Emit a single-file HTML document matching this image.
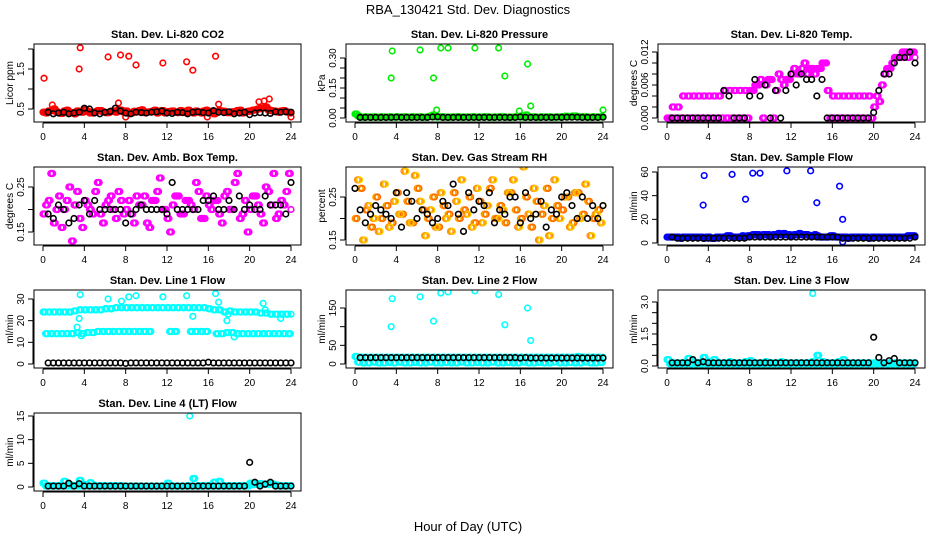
<!DOCTYPE html>
<html><head><meta charset="utf-8"><style>
body{margin:0;background:#fff;}
svg{display:block;font-family:"Liberation Sans",sans-serif;}
</style></head><body>
<svg id="c" width="936" height="540">
<text x="468" y="14" font-size="13" text-anchor="middle">RBA_130421  Std. Dev. Diagnostics</text>
<text x="468" y="531" font-size="13" text-anchor="middle">Hour of Day (UTC)</text>
</svg>
<script>
const hoursA=[0,0.5,1,1.5,2,2.5,3,3.5,4,4.5,5,5.5,6,6.5,7,7.5,8,8.5,9,9.5,10,10.5,11,11.5,12,12.5,13,13.5,14,14.5,15,15.5,16,16.5,17,17.5,18,18.5,19,19.5,20,20.5,21,21.5,22,22.5,23,23.5,24];
const hoursB=[0.25,0.75,1.25,1.75,2.25,2.75,3.25,3.75,4.25,4.75,5.25,5.75,6.25,6.75,7.25,7.75,8.25,8.75,9.25,9.75,10.25,10.75,11.25,11.75,12.25,12.75,13.25,13.75,14.25,14.75,15.25,15.75,16.25,16.75,17.25,17.75,18.25,18.75,19.25,19.75,20.25,20.75,21.25,21.75,22.25,22.75,23.25,23.75];
const xTicks=[0,4,8,12,16,20,24];

// CO2
const co2A=[0.42,0.45,0.5,0.4,0.45,0.42,0.38,0.44,0.48,0.4,0.43,0.46,0.41,0.44,0.42,0.47,0.45,0.4,0.43,0.48,0.42,0.44,0.4,0.46,0.43,0.45,0.41,0.44,0.47,0.4,0.43,0.45,0.42,0.38,0.46,0.44,0.41,0.43,0.47,0.42,0.45,0.48,0.52,0.55,0.46,0.44,0.45,0.43,0.4];
const co2B=[0.4,0.46,0.43,0.39,0.47,0.41,0.45,0.42,0.44,0.4,0.46,0.43,0.41,0.45,0.48,0.42,0.39,0.44,0.46,0.41,0.43,0.47,0.45,0.4,0.44,0.42,0.46,0.41,0.43,0.45,0.4,0.47,0.44,0.42,0.45,0.41,0.43,0.46,0.4,0.44,0.47,0.5,0.53,0.48,0.45,0.42,0.46,0.41];
const co2OutT=[0.1,3.5,3.6,6.3,7.5,8.3,9,11.6,13.9,14.5,16.7,0.9,7.3,17,20.9,21.4,21.9,15.9,24,8];
const co2OutV=[1.27,1.5,2.03,1.8,1.85,1.82,1.6,1.65,1.68,1.47,1.82,0.6,0.65,0.62,0.68,0.7,0.75,0.3,0.3,0.3];
const co2K=[0.4,0.42,0.38,0.4,0.42,0.38,0.4,0.42,0.52,0.5,0.4,0.38,0.42,0.44,0.52,0.45,0.4,0.38,0.42,0.41,0.4,0.42,0.43,0.45,0.4,0.39,0.42,0.41,0.38,0.42,0.43,0.41,0.4,0.46,0.42,0.41,0.43,0.38,0.4,0.42,0.36,0.4,0.41,0.4,0.39,0.43,0.42,0.43,0.42];
// Pressure
const prA=[0.02,0.005,0.006,0.004,0.005,0.006,0.004,0.005,0.006,0.004,0.005,0.006,0.005,0.004,0.006,0.015,0.005,0.006,0.004,0.005,0.006,0.005,0.004,0.006,0.005,0.006,0.004,0.005,0.006,0.005,0.004,0.006,0.01,0.015,0.005,0.004,0.006,0.005,0.004,0.005,0.006,0.008,0.01,0.007,0.006,0.005,0.006,0.005,0.006];
const prB=[0.01,0.004,0.005,0.006,0.004,0.005,0.006,0.004,0.005,0.006,0.004,0.005,0.006,0.004,0.01,0.005,0.006,0.004,0.005,0.006,0.004,0.005,0.006,0.004,0.005,0.006,0.004,0.005,0.006,0.004,0.005,0.006,0.004,0.005,0.006,0.004,0.005,0.006,0.004,0.005,0.008,0.006,0.01,0.005,0.006,0.004,0.005,0.006];
const prOutT=[3.5,3.6,6.3,7.6,8.3,9,11.6,13.9,14.5,16.7,17,7.9,15.9,24,0.1];
const prOutV=[0.2,0.335,0.34,0.2,0.35,0.35,0.35,0.35,0.21,0.27,0.06,0.04,0.035,0.04,0.02];
const prK=[0.015,0.003,0.003,0.003,0.003,0.003,0.003,0.003,0.004,0.003,0.003,0.003,0.003,0.003,0.003,0.005,0.006,0.003,0.003,0.003,0.003,0.003,0.003,0.003,0.003,0.003,0.003,0.003,0.003,0.003,0.003,0.003,0.005,0.003,0.003,0.003,0.003,0.003,0.003,0.004,0.003,0.004,0.004,0.004,0.003,0.003,0.003,0.003,0.004];
// Temp
const tmA=[0,0.002,0.002,0.004,0.004,0.004,0.004,0.004,0.004,0.004,0.004,0.005,0.005,0.005,0.005,0.005,0.005,0.006,0.007,0.006,0.007,0.005,0.007,0.007,0.008,0.008,0.009,0.008,0.009,0.009,0.010,0.005,0.004,0.004,0.004,0.004,0.004,0.004,0.004,0.004,0.002,0.003,0.008,0.009,0.011,0.011,0.012,0.012,0.011];
const tmB=[0,0,0,0,0,0,0,0,0,0,0,0,0,0,0,0,0.005,0.006,0,0.007,0,0.008,0.006,0.007,0.009,0.008,0.010,0.009,0.008,0.009,0.010,0,0,0,0,0,0,0,0,0,0.004,0.006,0.009,0.010,0.011,0.012,0.011,0.012];
const tmK=[0,0,0,0,0,0,0,0,0,0,0,0.005,0.004,0,0,0,0.004,0.007,0.004,0.006,0,0.005,0,0.005,0.008,0.006,0.008,0.007,0.007,0.004,0.007,0,0,0,0,0,0,0,0,0,0.001,0.005,0.008,0.008,0.010,0.011,0.011,0.012,0.010];
// Ambient temp
const amA=[0.19,0.22,0.17,0.23,0.2,0.25,0.21,0.18,0.22,0.2,0.24,0.19,0.21,0.23,0.18,0.22,0.2,0.19,0.23,0.21,0.17,0.22,0.24,0.2,0.18,0.21,0.23,0.19,0.22,0.2,0.24,0.18,0.21,0.22,0.19,0.23,0.2,0.26,0.18,0.22,0.2,0.23,0.19,0.25,0.21,0.18,0.22,0.24,0.2];
const amB=[0.21,0.28,0.2,0.16,0.22,0.13,0.24,0.16,0.21,0.19,0.26,0.17,0.22,0.2,0.24,0.19,0.22,0.17,0.21,0.23,0.16,0.22,0.27,0.2,0.15,0.23,0.19,0.22,0.21,0.26,0.18,0.23,0.2,0.22,0.17,0.24,0.2,0.28,0.19,0.15,0.23,0.21,0.17,0.24,0.28,0.19,0.21,0.28];
const amK=[0.19,0.19,0.18,0.21,0.2,0.17,0.18,0.21,0.22,0.19,0.22,0.2,0.2,0.2,0.2,0.2,0.17,0.19,0.2,0.21,0.2,0.2,0.2,0.2,0.19,0.26,0.2,0.2,0.2,0.2,0.2,0.22,0.22,0.23,0.2,0.2,0.22,0.2,0.23,0.2,0.21,0.2,0.2,0.23,0.21,0.21,0.21,0.19,0.26];
// Gas RH
const rhA=[0.2,0.27,0.22,0.18,0.25,0.2,0.23,0.19,0.26,0.21,0.24,0.19,0.27,0.22,0.2,0.25,0.18,0.23,0.21,0.26,0.2,0.22,0.25,0.19,0.24,0.21,0.27,0.2,0.23,0.19,0.26,0.22,0.2,0.25,0.18,0.24,0.21,0.27,0.2,0.23,0.22,0.25,0.19,0.26,0.21,0.24,0.2,0.22,0.23];
const rhB=[0.29,0.15,0.23,0.2,0.17,0.28,0.18,0.24,0.21,0.31,0.19,0.3,0.24,0.16,0.22,0.18,0.26,0.2,0.17,0.24,0.29,0.21,0.18,0.27,0.19,0.23,0.29,0.2,0.22,0.26,0.29,0.18,0.32,0.21,0.27,0.15,0.23,0.16,0.29,0.2,0.25,0.18,0.26,0.2,0.28,0.16,0.21,0.19];
const rhK=[0.27,0.22,0.19,0.21,0.23,0.22,0.21,0.2,0.26,0.18,0.26,0.24,0.2,0.22,0.21,0.19,0.2,0.24,0.23,0.28,0.21,0.17,0.26,0.22,0.24,0.23,0.26,0.19,0.22,0.21,0.25,0.25,0.19,0.26,0.2,0.21,0.24,0.18,0.22,0.21,0.25,0.26,0.23,0.2,0.25,0.2,0.23,0.2,0.23];
// Sample flow
const sfA=[5,5,5,5,5,5,5,4,5,4,5,5,6,5,5,5,6,7,6,7,6,7,7,7,6,7,7,7,6,6,5,5,6,5,5,4,5,5,5,4,5,5,5,5,5,5,5,6,6];
const sfB=[5,5,4,5,5,5,5,5,4,5,5,6,5,5,6,6,7,7,7,7,7,8,8,7,7,8,7,6,7,5,5,6,5,5,5,5,5,5,5,5,5,5,5,5,5,5,6,6];
const sfOutT=[3.5,3.6,6.3,7.6,8.3,9,11.6,13.9,14.5,16.7,17,17];
const sfOutV=[32,57,58,37,59,59,61,61,34,48,20,1];
const sfK=[5,5,4,4,4,4,4,4,4,4,4,4,4,4,4,4,5,5,5,5,5,5,5,5,5,5,5,5,5,5,5,5,5,5,4,4,4,4,4,4,4,4,4,4,4,4,4,4,5];
// Line 1 flow
const l1A=[24,24,24,24,24,24,24.5,25,25,25,25,25,25.5,25.5,26,26,26,26,26,26,26,26,26,26,26,26,26,26,26,26,26,26,25.5,25,25,24,24.5,24,24,24,24,24,23.5,23.5,23,23,23,23,23];
const l1B=[14,14,14,14,14,14,14.5,14,14.5,14.5,15,15,15,15,15,15,15,15,15,15,15,null,null,null,15,15,null,null,15,15,15,15,null,14,14,14.5,14.5,14,14,14,14,14,14,14,14,14,14,14];
const l1OutT=[3.6,6.3,7.6,8.3,9,11.6,13.9,16.7,17,3.3,3.5,14.5,17.8,17.9,18.5,21.3,21.5,23,3.7];
const l1OutV=[32,30,29,31,31.5,31,31.5,32.5,28.5,17,21,22,20,23,12.5,28,25,21,13];
const l1K=[0,0.5,0.5,0.5,0.5,0.5,0.5,0.5,0.5,0.5,0.5,0.5,0.5,0.5,0.5,0.5,0.3,0.5,0.5,0.5,0.5,0.5,0.5,0.5,0.5,0.5,0.5,0.5,0.5,0.5,0.5,0.5,0.8,0.5,0.5,0.5,0.5,0.5,0.5,0.5,0.5,0.5,0.5,0.5,0.5,0.5,0.5,0.5,0.5];
// Line 2 flow
const l2A=[20,18,18,18,18,18,18,18,18,18,18,18,18,18,18,18,18,18,18,18,18,18,18,18,18,18,18,18,18,18,18,18,18,18,18,18,18,18,18,18,18,18,18,20,18,18,18,18,18];
const l2B=[5,3,3,5,3,3,4,3,5,3,3,4,3,3,5,3,3,4,3,3,5,3,3,4,3,3,5,3,3,4,3,3,5,3,3,4,3,3,5,3,3,4,3,3,5,3,3,4];
const l2OutT=[3.5,3.6,6.3,7.6,8.3,9,11.6,13.9,14.5,16.7,17];
const l2OutV=[100,175,180,115,190,193,196,186,105,150,63];
const l2K=[17,17,17,17,17,17,17,17,17,17,17,17,17,17,17,17,17,17,17,17,17,17,17,17,17,17,17,17,17,17,17,17,16,17,16,16,16,16,16,16,16,16,16,16,16,16,16,16,16];
// Line 3 flow
const l3A=[0.3,0.15,0.15,0.15,0.35,0.2,0.15,0.4,0.2,0.3,0.15,0.15,0.2,0.15,0.15,0.2,0.25,0.15,0.15,0.2,0.15,0.15,0.2,0.15,0.15,0.15,0.15,0.15,0.2,0.5,0.2,0.15,0.15,0.2,0.3,0.15,0.15,0.15,0.15,0.15,0.15,0.15,0.15,0.15,0.15,0.15,0.15,0.15,0.15];
const l3B=[0.1,0.1,0.1,0.1,0.1,0.1,0.1,0.1,0.1,0.1,0.1,0.1,0.1,0.1,0.1,0.1,0.1,0.1,0.1,0.1,0.1,0.1,0.1,0.1,0.1,0.1,0.1,0.1,0.1,0.1,0.1,0.1,0.1,0.1,0.1,0.1,0.1,0.1,0.1,0.1,0.1,0.1,0.1,0.1,0.1,0.1,0.1,0.1];
const l3OutT=[14.1];
const l3OutV=[3.4];
const l3K=[0.15,0.15,0.15,0.15,0.15,0.3,0.15,0.2,0.15,0.15,0.15,0.15,0.15,0.15,0.15,0.15,0.15,0.15,0.15,0.15,0.15,0.15,0.15,0.15,0.15,0.15,0.15,0.15,0.15,0.15,0.15,0.15,0.15,0.15,0.15,0.15,0.15,0.15,0.15,0.15,1.35,0.4,0.15,0.25,0.35,0.15,0.15,0.15,0.15];
// Line 4 flow
const l4A=[0.8,0.3,0.3,0.3,1.2,0.5,0.3,1.4,0.5,0.9,0.3,0.3,0.3,0.3,0.3,0.3,0.2,0.2,0.2,0.2,0.2,0.2,0.2,0.2,0.8,0.2,0.2,0.2,0.3,1.8,0.3,0.3,0.3,1.0,1.2,0.3,0.3,0.3,0.3,0.3,0.8,0.8,0.7,0.6,0.8,0.4,0.3,0.3,0.3];
const l4B=[0.2,0.2,0.2,0.2,0.2,0.2,0.2,0.2,0.2,0.2,0.2,0.2,0.2,0.2,0.2,0.2,0.2,0.2,0.2,0.2,0.2,0.2,0.2,0.2,0.2,0.2,0.2,0.2,0.2,0.2,0.2,0.2,0.2,0.2,0.2,0.2,0.2,0.2,0.2,0.2,0.5,0.5,0.5,0.5,0.5,0.2,0.2,0.2];
const l4OutT=[14.2];
const l4OutV=[15];
const l4K=[0.2,0.2,0.2,0.2,0.2,0.8,0.2,0.7,0.2,0.2,0.2,0.2,0.2,0.2,0.2,0.2,0.2,0.2,0.2,0.2,0.2,0.2,0.2,0.2,0.2,0.2,0.2,0.2,0.2,0.2,0.2,0.2,0.2,0.2,0.2,0.2,0.2,0.2,0.2,0.2,5.2,1.0,0.2,0.6,1.0,0.2,0.2,0.2,0.2];

const NS='http://www.w3.org/2000/svg';
const svg=document.getElementById('c');
function mk(tag,attrs,parent){const e=document.createElementNS(NS,tag);for(const k in attrs)e.setAttribute(k,attrs[k]);(parent||svg).appendChild(e);return e;}

const panels=[
 {id:'co2',title:'Stan. Dev. Li-820 CO2',ylab:'Licor ppm',r:0,c:0,v0:0.5,p0:109,v1:1.5,p1:69,ticks:[0.5,1,1.5,2],labels:['0.5','','1.5',''],col:'#ff0000',A:co2A,B:co2B,OT:co2OutT,OV:co2OutV,K:co2K},
 {id:'pressure',title:'Stan. Dev. Li-820 Pressure',ylab:'kPa',r:0,c:1,v0:0,p0:118,v1:0.3,p1:58,ticks:[0,0.05,0.1,0.15,0.2,0.25,0.3],labels:['0.00','','','0.15','','','0.30'],col:'#00ee00',A:prA,B:prB,OT:prOutT,OV:prOutV,K:prK},
 {id:'temp',title:'Stan. Dev. Li-820 Temp.',ylab:'degrees C',r:0,c:2,v0:0,p0:118,v1:0.012,p1:52,ticks:[0,0.002,0.004,0.006,0.008,0.01,0.012],labels:['0.000','','','0.006','','','0.012'],col:'#ff00ff',A:tmA,B:tmB,OT:[],OV:[],K:tmK},
 {id:'amb',title:'Stan. Dev. Amb. Box Temp.',ylab:'degrees C',r:1,c:0,v0:0.15,p0:232,v1:0.25,p1:187,ticks:[0.15,0.2,0.25],labels:['0.15','','0.25'],col:'#ff00ff',A:amA,B:amB,OT:[],OV:[],K:amK},
 {id:'rh',title:'Stan. Dev. Gas Stream RH',ylab:'percent',r:1,c:1,v0:0.15,p0:240,v1:0.25,p1:197,ticks:[0.15,0.2,0.25],labels:['0.15','','0.25'],col:'#ffcc00',col2:'#ff6600',A:rhA,B:rhB,OT:[],OV:[],K:rhK},
 {id:'sample',title:'Stan. Dev. Sample Flow',ylab:'ml/min',r:1,c:2,v0:0,p0:243,v1:60,p1:172,ticks:[0,20,40,60],labels:['0','20','40','60'],col:'#0000ff',A:sfA,B:sfB,OT:sfOutT,OV:sfOutV,K:sfK},
 {id:'line1',title:'Stan. Dev. Line 1 Flow',ylab:'ml/min',r:2,c:0,v0:0,p0:364,v1:30,p1:299,ticks:[0,10,20,30],labels:['0','10','20','30'],col:'#00ffff',A:l1A,B:l1B,OT:l1OutT,OV:l1OutV,K:l1K},
 {id:'line2',title:'Stan. Dev. Line 2 Flow',ylab:'ml/min',r:2,c:1,v0:0,p0:364,v1:150,p1:308,ticks:[0,50,100,150],labels:['0','50','','150'],col:'#00ffff',A:l2A,B:l2B,OT:l2OutT,OV:l2OutV,K:l2K},
 {id:'line3',title:'Stan. Dev. Line 3 Flow',ylab:'ml/min',r:2,c:2,v0:0,p0:366,v1:3,p1:302,ticks:[0,0.5,1,1.5,2,2.5,3],labels:['0.0','','','1.5','','','3.0'],col:'#00ffff',A:l3A,B:l3B,OT:l3OutT,OV:l3OutV,K:l3K},
 {id:'line4',title:'Stan. Dev. Line 4 (LT) Flow',ylab:'ml/min',r:3,c:0,v0:0,p0:487,v1:15,p1:416,ticks:[0,5,10,15],labels:['0','5','10','15'],col:'#00ffff',A:l4A,B:l4B,OT:l4OutT,OV:l4OutV,K:l4K}
];

// rendering-only duplicate offsets to reproduce overplotting density (hours)
const dup=[0,0.0625,0.125,0.1875];

panels.forEach(p=>{
  const x0=43+312*p.c, xw=248;
  const top=44+123*p.r, bot=122+123*p.r, left=x0-9, right=x0+258;
  const X=t=>x0+t/24*xw;
  const Y=v=>p.p0+(v-p.v0)*(p.p1-p.p0)/(p.v1-p.v0);
  const g=mk('g',{});
  
  
  const tt=mk('text',{x:(left+right)/2,y:top-6,'font-size':11,'font-weight':'bold','text-anchor':'middle'},g);
  tt.textContent=p.title;
  
  
  const cp=mk('clipPath',{id:'cl'+p.id},g);
  mk('rect',{x:left,y:top,width:right-left,height:bot-top},cp);
  const pts=mk('g',{'clip-path':'url(#cl'+p.id+')'},g);
  
  
  function dot(t,v,col,r){
    if(v===null||t>24.05)return;
    const e=mk('circle',{cx:X(t),cy:Y(v),r:r||2.8,fill:'none',stroke:col,'stroke-width':1.6},pts);
    
    
  }
  const c2=p.col2||p.col;
  dup.forEach((d,k)=>{
    p.A.forEach((v,i)=>dot(hoursA[i]+d,v,k%2?c2:p.col));
    p.B.forEach((v,i)=>dot(hoursB[i]+d,v,k%2?p.col:c2));
  });
  p.OT.forEach((t,i)=>dot(t,p.OV[i],p.col));
  p.K.forEach((v,i)=>{ if(i>0 || p.id==='rh') dot(hoursA[i],v,'#000'); });
  const box=mk('rect',{x:left,y:top,width:right-left,height:bot-top,fill:'none',stroke:'#000','stroke-width':1},g);
  
  
  mk('line',{x1:X(0),x2:X(24),y1:bot+1,y2:bot+1,stroke:'#000'},g);
  xTicks.forEach(t=>{
    mk('line',{x1:X(t),x2:X(t),y1:bot+1,y2:bot+6,stroke:'#000'},g);
    const l=mk('text',{x:X(t),y:bot+18,'font-size':10,'text-anchor':'middle'},g);
    l.textContent=t;
    
    
  });
  mk('line',{x1:left-1,x2:left-1,y1:Y(p.ticks[0]),y2:Y(p.ticks[p.ticks.length-1]),stroke:'#000'},g);
  p.ticks.forEach((v,i)=>{
    mk('line',{x1:left-1,x2:left-6,y1:Y(v),y2:Y(v),stroke:'#000'},g);
    if(p.labels[i]){
      const l=mk('text',{x:0,y:0,'font-size':10,'text-anchor':'middle',transform:`translate(${left-10},${Y(v)}) rotate(-90)`},g);
      l.textContent=p.labels[i];
      
      
    }
  });
  const yl=mk('text',{x:0,y:0,'font-size':10,'text-anchor':'middle',transform:`translate(${left-21},${(top+bot)/2}) rotate(-90)`},g);
  yl.textContent=p.ylab;
  
  
});
</script>
</body></html>
